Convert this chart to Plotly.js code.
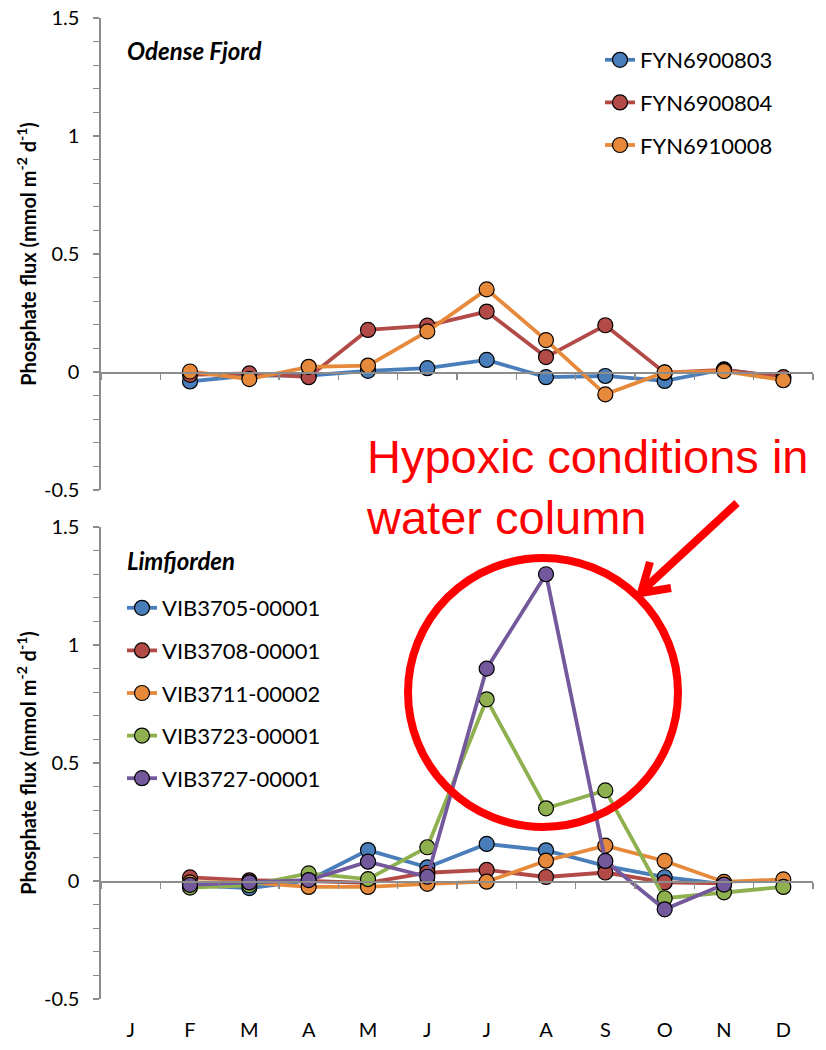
<!DOCTYPE html>
<html>
<head>
<meta charset="utf-8">
<script src="https://cdn.plot.ly/plotly-3.0.1.min.js"></script>
<style>
  html, body { margin: 0; padding: 0; background: #fff; }
  #chart { width: 826px; height: 1050px; }
</style>
</head>
<body>
<div id="chart"></div>
<script>
// Month positions and labels (J = January ... D = December)
const monthIndex = [0, 1, 2, 3, 4, 5, 6, 7, 8, 9, 10, 11];
const monthLabels = ['J', 'F', 'M', 'A', 'M', 'J', 'J', 'A', 'S', 'O', 'N', 'D'];

// Odense Fjord stations, phosphate flux (mmol m-2 d-1)
const odenseNames = ['FYN6900803', 'FYN6900804', 'FYN6910008'];
const fyn6900803 = [null, -0.040, -0.015, -0.015, 0.005, 0.016, 0.051, -0.022, -0.017, -0.038, 0.011, -0.025];
const fyn6900804 = [null, -0.012, -0.006, -0.022, 0.178, 0.196, 0.256, 0.063, 0.198, -0.003, 0.009, -0.022];
const fyn6910008 = [null, 0.002, -0.030, 0.022, 0.027, 0.172, 0.350, 0.135, -0.095, -0.002, 0.004, -0.035];

// Limfjorden stations, phosphate flux (mmol m-2 d-1)
const limNames = ['VIB3705-00001', 'VIB3708-00001', 'VIB3711-00002', 'VIB3723-00001', 'VIB3727-00001'];
const vib3705 = [null, -0.017, -0.030, 0.003, 0.131, 0.058, 0.157, 0.130, 0.064, 0.016, -0.013, null];
const vib3708 = [null, 0.015, 0.003, 0.000, -0.008, 0.035, 0.047, 0.017, 0.036, -0.006, -0.010, null];
const vib3711 = [null, -0.006, -0.006, -0.025, -0.025, -0.012, -0.003, 0.086, 0.150, 0.085, -0.004, 0.007];
const vib3723 = [null, -0.028, -0.018, 0.032, 0.008, 0.143, 0.770, 0.308, 0.384, -0.073, -0.048, -0.025];
const vib3727 = [null, -0.016, -0.006, 0.004, 0.082, 0.018, 0.900, 1.300, 0.085, -0.120, -0.015, null];

// Y axis ticks
const yTickVals = [-0.5, 0, 0.5, 1, 1.5];
const yTickText = ['-0.5', '0', '0.5', '1', '1.5'];

const seriesColors = ['#4A7EBB', '#B24A47', '#E6893B', '#8EB04E', '#73589C'];
const axisGrey = '#8C8C8C';
const baseFont = 'Lato, "Open Sans", sans-serif';

const yRange = [-0.5, 1.5];
const topDomain = [0.5189, 1];
const bottomDomain = [0, 0.4811];
// x axes sit on the zero line of each panel
const zeroPos = d => d[0] + (0 - yRange[0]) / (yRange[1] - yRange[0]) * (d[1] - d[0]);

function series(name, values, color, xa, ya, legend, group) {
  return {
    type: 'scatter', mode: 'lines+markers', name: name,
    x: monthIndex, y: values, xaxis: xa, yaxis: ya,
    legend: legend, legendgroup: group,
    connectgaps: false,
    line: { color: color, width: 3.8 },
    marker: { color: color, size: 15, line: { color: '#000', width: 1.2 } }
  };
}

const odenseValues = [fyn6900803, fyn6900804, fyn6910008];
const limValues = [vib3705, vib3708, vib3711, vib3723, vib3727];

const traces = [];
odenseValues.forEach((v, i) => traces.push(series(odenseNames[i], v, seriesColors[i], 'x', 'y', 'legend', 'o' + i)));
limValues.forEach((v, i) => traces.push(series(limNames[i], v, seriesColors[i], 'x2', 'y2', 'legend2', 'l' + i)));

function xAxis(domainY, labels) {
  return {
    domain: [0, 1], range: [-0.5, 11.5], anchor: 'free', position: zeroPos(domainY),
    tickmode: 'array', tickvals: monthIndex, ticktext: monthLabels,
    showticklabels: labels, ticks: '', ticklabelstandoff: 130,
    tickfont: { family: baseFont, size: 20, color: '#000' },
    minor: { tick0: 0.5, dtick: 1, ticks: 'outside', ticklen: 6, tickcolor: axisGrey, tickwidth: 1.3 },
    showline: true, linecolor: axisGrey, linewidth: 1.6,
    showgrid: false, zeroline: false, fixedrange: true
  };
}

function yAxis(domainY, anchor) {
  return {
    domain: domainY, range: yRange, anchor: anchor,
    tickmode: 'array', tickvals: yTickVals, ticktext: yTickText,
    ticks: 'outside', ticklen: 6, tickcolor: axisGrey, tickwidth: 1.3,
    ticklabelstandoff: 10,
    minor: { tick0: 0, dtick: 0.1, ticks: 'outside', ticklen: 6, tickcolor: axisGrey, tickwidth: 1.3 },
    tickfont: { family: baseFont, size: 20, color: '#000' },
    showline: true, linecolor: axisGrey, linewidth: 1.6,
    showgrid: false, zeroline: false, fixedrange: true,
    title: {
      text: '<b>Phosphate flux (mmol m<sup>-2</sup> d<sup>-1</sup>)</b>',
      font: { family: baseFont, size: 20, color: '#000' }, standoff: 2
    }
  };
}

// pixel helpers for the overlay drawing (plot area 101..813 x 18..999)
const px = v => (v - 101) / 712;
const py = v => (999 - v) / 981;

const layout = {
  width: 826, height: 1050,
  margin: { l: 101, r: 13, t: 18, b: 51 },
  paper_bgcolor: '#fff', plot_bgcolor: '#fff',
  font: { family: baseFont, color: '#000' },
  xaxis: xAxis(topDomain, false),
  yaxis: yAxis(topDomain, 'x'),
  xaxis2: xAxis(bottomDomain, true),
  yaxis2: yAxis(bottomDomain, 'x2'),
  legend: {
    x: px(600), y: py(39), xanchor: 'left', yanchor: 'top',
    font: { family: baseFont, size: 22, color: '#000' },
    bgcolor: 'rgba(0,0,0,0)', tracegroupgap: 11, itemwidth: 30
  },
  legend2: {
    x: px(122), y: py(587), xanchor: 'left', yanchor: 'top',
    font: { family: baseFont, size: 22, color: '#000' },
    bgcolor: 'rgba(0,0,0,0)', tracegroupgap: 11, itemwidth: 30
  },
  annotations: [
    { xref: 'paper', yref: 'paper', x: px(125), y: py(51), xanchor: 'left', yanchor: 'middle',
      text: '<b><i>Odense Fjord</i></b>', showarrow: false,
      font: { family: baseFont, size: 24, color: '#000' } },
    { xref: 'paper', yref: 'paper', x: px(125), y: py(561), xanchor: 'left', yanchor: 'middle',
      text: '<b><i>Limfjorden</i></b>', showarrow: false,
      font: { family: baseFont, size: 24, color: '#000' } },
    { xref: 'paper', yref: 'paper', x: px(364), y: py(428), xanchor: 'left', yanchor: 'top',
      align: 'left', text: 'Hypoxic conditions in<br>water column', showarrow: false,
      font: { family: '"Liberation Sans", Arial, sans-serif', size: 47, color: '#FF0000' } }
  ],
  shapes: [
    { type: 'circle', xref: 'paper', yref: 'paper',
      x0: px(408), x1: px(678), y0: py(827), y1: py(558),
      line: { color: '#FF0000', width: 8 } },
    { type: 'line', xref: 'paper', yref: 'paper',
      x0: px(737), y0: py(503), x1: px(643), y1: py(590),
      line: { color: '#FF0000', width: 8 } },
    { type: 'path', xref: 'paper', yref: 'paper',
      path: 'M ' + px(650) + ' ' + py(562) + ' L ' + px(641) + ' ' + py(593) + ' L ' + px(671) + ' ' + py(588),
      line: { color: '#FF0000', width: 8 } }
  ]
};

Plotly.newPlot('chart', traces, layout, { displayModeBar: false, staticPlot: true });
</script>
</body>
</html>
